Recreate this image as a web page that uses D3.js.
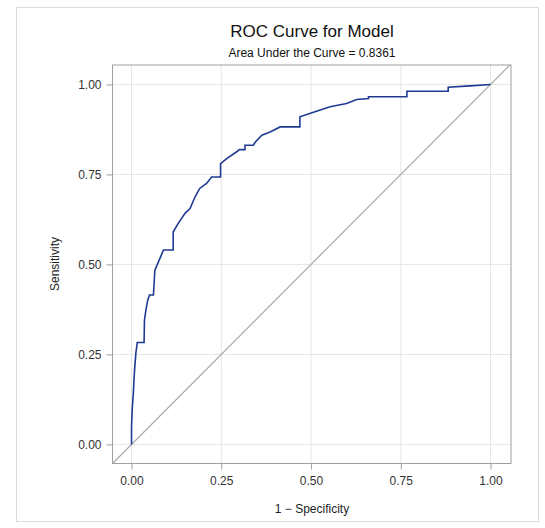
<!DOCTYPE html>
<html>
  <head>
    <script src="https://cdn.jsdelivr.net/npm/d3@7/dist/d3.min.js" charset="utf-8"></script>
    <style>
      body { margin: 0; background: #fff; }
      text { font-family: "Liberation Sans", Arial, sans-serif; }
    </style>
  </head>
  <body>
    <svg id="roc" width="545" height="528"></svg>
    <script>
      // ROC vertices (1 - specificity, sensitivity)
      var fpr = [0, 0, 0.002, 0.005, 0.008, 0.012, 0.016, 0.035, 0.036, 0.04, 0.045, 0.05, 0.061,
                 0.065, 0.077, 0.089, 0.116, 0.116, 0.13, 0.149, 0.163, 0.177, 0.19, 0.209, 0.223,
                 0.248, 0.248, 0.265, 0.293, 0.3, 0.316, 0.316, 0.339, 0.345, 0.363, 0.386, 0.414,
                 0.469, 0.469, 0.511, 0.553, 0.599, 0.627, 0.66, 0.66, 0.767, 0.767, 0.882, 0.882,
                 0.943, 1];
      var tpr = [0, 0.05, 0.1, 0.142, 0.2, 0.253, 0.283, 0.283, 0.345, 0.373, 0.4, 0.415, 0.415,
                 0.484, 0.512, 0.54, 0.54, 0.59, 0.614, 0.642, 0.655, 0.688, 0.711, 0.725, 0.743,
                 0.743, 0.78, 0.794, 0.813, 0.819, 0.819, 0.831, 0.831, 0.84, 0.859, 0.868, 0.882,
                 0.882, 0.91, 0.924, 0.938, 0.947, 0.958, 0.961, 0.966, 0.966, 0.981, 0.981, 0.992,
                 0.996, 1];
      var ticks = [0, 0.25, 0.5, 0.75, 1];
      var title = "ROC Curve for Model";
      var subtitle = "Area Under the Curve = 0.8361";

      var svg = d3.select("#roc");
      var plot = {left: 112.5, right: 511, top: 65, bottom: 463.5};

      var x = d3.scaleLinear().domain([-0.053, 1.057]).range([plot.left, plot.right]);
      var y = d3.scaleLinear().domain([-0.053, 1.054]).range([plot.bottom, plot.top]);

      // outer frame
      svg.append("rect")
        .attr("x", 16.5).attr("y", 7.5).attr("width", 522).attr("height", 514)
        .attr("fill", "none").attr("stroke", "#dcdcdc");

      svg.append("text").text(title)
        .attr("x", 312).attr("y", 37).attr("text-anchor", "middle")
        .attr("font-size", 17).attr("fill", "#111");
      svg.append("text").text(subtitle)
        .attr("x", 312).attr("y", 57).attr("text-anchor", "middle")
        .attr("font-size", 12).attr("fill", "#111");

      // grid
      var g = svg.append("g");
      g.selectAll(".gx").data(ticks).enter().append("line")
        .attr("x1", d => x(d)).attr("x2", d => x(d))
        .attr("y1", plot.top).attr("y2", plot.bottom)
        .attr("stroke", "#e6e6e6");
      g.selectAll(".gy").data(ticks).enter().append("line")
        .attr("y1", d => y(d)).attr("y2", d => y(d))
        .attr("x1", plot.left).attr("x2", plot.right)
        .attr("stroke", "#e6e6e6");

      // chance diagonal
      g.append("line")
        .attr("x1", x(-0.053)).attr("y1", y(-0.053))
        .attr("x2", x(1.054)).attr("y2", y(1.054))
        .attr("stroke", "#aaaaaa").attr("stroke-width", 1.2);

      // roc curve
      var pts = fpr.map((d, i) => [d, tpr[i]]);
      g.append("path")
        .attr("d", d3.line().x(d => x(d[0])).y(d => y(d[1]))(pts))
        .attr("fill", "none").attr("stroke", "#1f3a93").attr("stroke-width", 1.6);

      // frame
      svg.append("rect")
        .attr("x", plot.left).attr("y", plot.top)
        .attr("width", plot.right - plot.left).attr("height", plot.bottom - plot.top)
        .attr("fill", "none").attr("stroke", "#a0a0a0");

      var fmt = d3.format(".2f");
      var xAxis = svg.append("g").attr("transform", `translate(0,${plot.bottom})`)
        .call(d3.axisBottom(x).tickValues(ticks).tickFormat(fmt).tickSize(6).tickPadding(7));
      var yAxis = svg.append("g").attr("transform", `translate(${plot.left},0)`)
        .call(d3.axisLeft(y).tickValues(ticks).tickFormat(fmt).tickSize(6).tickPadding(5));
      [xAxis, yAxis].forEach(a => {
        a.select(".domain").remove();
        a.selectAll("line").attr("stroke", "#a0a0a0");
        a.selectAll("text").attr("font-size", 12).attr("fill", "#333")
          .attr("font-family", "'Liberation Sans', Arial, sans-serif");
      });

      svg.append("text").text("1 \u2212 Specificity")
        .attr("x", 312).attr("y", 513).attr("text-anchor", "middle")
        .attr("font-size", 12).attr("fill", "#222");
      svg.append("text").text("Sensitivity")
        .attr("transform", "translate(59,264) rotate(-90)")
        .attr("text-anchor", "middle")
        .attr("font-size", 12).attr("fill", "#222");
    </script>
  </body>
</html>
